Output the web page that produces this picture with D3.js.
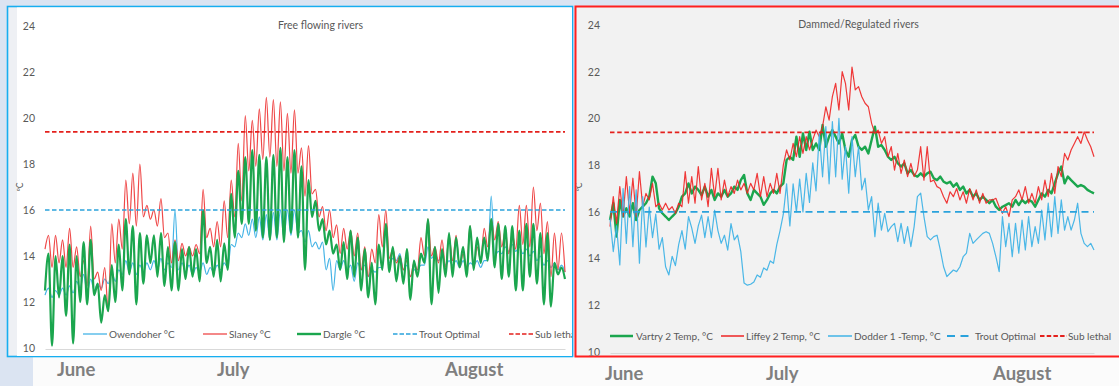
<!DOCTYPE html>
<html><head><meta charset="utf-8">
<script src="https://cdn.jsdelivr.net/npm/d3@7"></script>
<style>
html,body{margin:0;padding:0;background:#dbe4f2;}
svg{display:block;}
text{font-family:Lato,"Open Sans",sans-serif;}
</style></head><body>
<svg id="c" width="1119" height="386"></svg>
<script>
// ---------- DATA (half-day samples, 74 days, June-August) ----------
const yTicks = [10, 12, 14, 16, 18, 20, 22, 24];
const monthLabels = ["June", "July", "August"];
const troutOptimal = 16;
const subLethal = 19.4;

// Free flowing rivers
const owendoher = [
12.3,12.6,12.2,12.5,12.3,12.6,12.3,12.7,12.4,12.9,12.6,13.2,12.4,13.0,12.5,12.8,12.6,13.0,12.8,13.3,
12.9,13.4,13.2,13.8,13.3,13.7,13.2,13.6,13.3,13.7,13.4,13.8,13.4,13.9,13.4,13.7,13.5,16.0,13.4,13.7,
13.3,13.6,13.2,13.5,13.3,13.7,13.2,13.5,13.3,13.6,13.4,13.7,13.5,14.5,14.4,15.0,14.8,15.4,14.9,15.6,
14.8,15.7,14.7,15.8,14.7,15.9,14.7,16.0,14.8,16.0,14.9,16.0,15.0,15.1,14.6,15.1,14.4,14.6,14.3,14.6,
13.4,13.9,12.5,13.8,13.4,13.8,13.4,13.6,12.9,13.7,13.4,13.6,13.1,13.4,13.3,13.5,13.5,15.0,13.7,13.9,
13.8,14.1,13.4,13.6,13.1,13.4,13.4,13.6,13.6,14.4,13.9,14.1,13.8,14.0,13.6,13.8,13.6,13.8,13.5,13.8,
13.5,13.7,13.6,13.8,13.5,13.8,13.8,16.6,14.0,14.2,14.1,14.4,14.2,14.5,14.2,14.4,14.1,14.3,14.0,14.2,
13.8,14.0,13.6,13.8,13.5,13.7,13.4,13.6,13.3];
const slaney = [
14.3,14.9,13.5,14.9,13.7,14.7,13.5,15.2,13.5,14.4,13.1,13.8,12.7,15.3,13.0,13.3,12.5,13.5,11.6,15.4,
13.7,15.6,14.3,17.3,15.4,17.6,15.3,18.0,15.7,16.2,15.6,16.0,15.3,16.5,14.8,15.0,13.7,14.7,13.8,14.55,
14.0,14.4,14.0,14.5,14.1,16.9,14.8,15.2,14.4,15.5,14.4,16.4,14.8,17.3,15.7,18.9,16.4,20.1,17.7,19.9,
17.9,20.4,18.2,20.9,18.3,20.8,17.9,20.7,17.7,20.2,17.6,20.35,17.6,18.7,16.6,18.8,16.7,16.9,15.7,16.15,
15.1,16.0,14.8,15.35,14.1,15.2,14.3,15.1,14.0,15.0,13.4,14.4,13.1,14.3,13.7,15.8,14.4,16.0,13.9,14.3,
13.7,14.0,13.4,13.8,13.1,13.7,13.4,14.8,14.0,15.6,14.0,14.4,13.7,14.7,13.5,14.9,13.8,14.9,13.5,14.1,
13.5,15.3,13.5,14.4,13.8,15.2,14.4,15.6,14.7,15.5,14.4,15.1,14.1,15.0,14.3,16.2,14.5,16.2,14.4,17.0,
15.1,16.3,14.1,15.5,13.1,15.0,13.4,15.0,13.3];
const dargle = [
12.5,14.1,10.1,14.0,12.2,14.0,11.4,14.5,10.2,14.0,12.0,14.6,11.9,14.7,12.3,12.8,11.1,12.3,11.6,13.6,
12.0,14.5,12.5,15.6,13.2,15.3,11.9,15.0,12.8,14.9,13.7,14.9,13.1,15.0,12.7,14.4,12.5,14.6,12.5,14.3,
13.0,14.4,13.1,14.3,12.9,16.0,13.7,14.4,13.1,14.7,12.9,14.55,13.4,16.7,14.8,17.7,15.4,18.3,15.4,18.6,
15.1,18.4,14.8,18.3,14.7,18.4,14.8,18.7,14.6,18.3,15.0,18.6,14.8,17.9,13.4,17.3,15.7,16.4,15.1,15.6,
14.5,15.1,14.1,14.5,13.4,14.6,13.0,15.1,13.1,14.8,12.5,14.3,12.2,13.7,11.9,14.5,13.4,15.4,13.3,14.4,
12.9,14.0,12.8,14.3,12.1,13.8,13.1,14.1,13.7,15.6,11.9,14.4,12.4,14.3,13.1,15.0,13.1,14.8,13.5,14.4,
13.1,15.3,13.4,14.8,13.7,14.8,13.8,15.6,13.5,15.4,13.0,15.3,13.1,15.3,12.5,15.1,12.5,15.4,13.1,15.4,
12.8,15.0,11.9,15.0,11.8,13.7,13.2,13.5,13.0];

// Dammed / regulated rivers
const vartry = [
15.65,16.37,14.94,16.51,15.8,16.15,15.8,16.37,15.65,16.08,16.22,16.37,16.65,17.51,17.22,16.15,15.94,15.8,15.65,15.8,
15.94,16.22,16.65,16.79,17.22,16.79,17.08,16.94,16.72,17.08,16.65,16.94,16.51,16.79,16.65,16.94,16.65,16.79,17.08,16.94,
17.36,17.58,16.79,16.51,16.94,16.79,16.65,16.3,16.51,16.79,16.94,16.79,17.08,17.22,18.22,18.36,18.22,19.22,18.36,19.36,
18.65,19.43,18.65,18.93,18.65,19.72,18.79,19.22,19.5,19.22,18.93,19.36,18.65,18.36,19.08,19.29,18.79,18.65,18.79,18.5,
19.08,19.65,18.79,18.86,18.65,18.36,18.22,18.36,18.08,17.94,18.08,17.65,17.79,17.58,17.51,17.65,17.51,17.65,17.72,17.44,
17.36,17.51,17.29,17.22,17.29,17.08,17.22,16.94,17.08,16.79,16.94,16.65,16.79,16.51,16.65,16.51,16.37,16.51,16.22,16.08,
16.22,16.29,16.37,16.22,16.51,16.29,16.51,16.37,16.51,16.44,16.22,16.51,16.79,16.65,16.94,16.79,17.22,17.65,17.94,17.22,
17.51,17.36,17.22,17.08,17.15,17.08,16.94,16.86,16.79];
const liffey = [
15.37,16.65,15.51,17.08,15.8,17.51,15.94,17.44,15.8,17.72,16.22,16.79,16.51,17.22,16.22,16.37,16.08,16.37,16.08,16.22,
15.94,16.37,16.22,17.72,16.37,17.51,16.37,17.94,16.51,17.22,16.22,17.86,16.65,17.86,16.51,17.36,16.65,17.08,16.79,17.36,
16.94,17.22,16.79,17.22,16.94,17.65,16.65,17.51,16.65,17.22,16.79,17.65,16.79,18.0,18.65,18.22,18.93,18.36,19.22,18.5,
19.22,18.65,19.08,19.5,19.22,19.65,20.5,19.93,20.93,21.5,20.36,22.0,21.5,20.36,22.2,21.22,21.36,20.93,20.65,20.5,
19.79,19.36,19.5,18.93,19.22,18.36,18.79,17.79,18.5,17.65,18.22,17.51,18.08,17.51,17.79,18.79,17.36,18.79,17.29,17.36,
17.08,17.0,16.65,16.37,16.86,16.65,17.0,16.51,16.86,16.37,17.0,16.51,16.94,16.37,16.79,16.37,16.51,16.51,16.58,16.22,
15.94,16.22,15.8,16.51,16.65,16.94,16.51,17.08,16.37,16.79,16.37,17.08,16.51,17.36,16.65,17.65,16.79,17.94,17.51,18.5,
18.22,18.65,18.93,19.22,18.93,19.43,19.08,18.79,18.36];
const dodder = [
15.72,14.3,15.4,13.73,17.0,14.65,17.08,14.51,16.94,13.8,16.65,14.5,16.2,14.9,15.9,14.4,14.9,13.65,13.3,14.1,
13.7,14.6,15.2,14.4,15.8,15.3,14.65,15.4,15.86,14.9,15.8,14.9,16.07,15.2,14.65,15.0,14.36,15.5,14.8,15.0,
14.3,12.95,12.86,12.9,13.0,13.3,13.2,13.6,13.5,13.9,13.8,14.6,15.2,15.9,17.2,15.4,17.2,16.0,17.4,16.0,
17.65,16.4,18.1,16.9,19.36,17.5,19.65,17.2,19.86,17.5,20.0,17.4,18.8,16.8,19.22,17.51,18.79,16.94,17.44,16.08,
16.65,14.94,16.37,15.22,15.94,15.15,15.37,15.51,14.73,15.51,14.65,15.37,14.51,15.37,16.65,16.8,15.8,14.94,14.8,14.94,
15.0,14.37,13.65,13.23,13.37,13.51,13.44,13.65,14.08,14.23,15.08,14.65,14.8,14.94,15.08,15.15,15.08,14.65,14.08,13.44,
15.8,14.51,15.51,14.08,15.51,14.23,15.65,14.37,15.8,14.51,15.37,14.65,16.08,14.8,16.37,14.94,16.65,15.08,16.51,15.22,
15.8,15.22,15.65,16.37,15.08,14.65,14.51,14.65,14.37];

// ---------- DRAWING ----------
const svg = d3.select("#c");
const TXT = "#595959";

// page pieces
svg.append("rect").attr("x",0).attr("y",0).attr("width",1119).attr("height",386).attr("fill","#dbe4f2");
svg.append("rect").attr("x",33).attr("y",357).attr("width",1086).attr("height",29).attr("fill","#fbfbfb");

// panel frames
svg.append("rect").attr("x",7.5).attr("y",6.5).attr("width",565).attr("height",350)
  .attr("fill","#eef0f4").attr("stroke","#17aef0").attr("stroke-width",1.6);
svg.append("rect").attr("x",17).attr("y",7.5).attr("width",555).attr("height",348.5).attr("fill","#ffffff");
svg.append("rect").attr("x",575.5).attr("y",6.5).attr("width",560).attr("height",350)
  .attr("fill","#f2f2f2").attr("stroke","#ff1f1f").attr("stroke-width",2);

const defs = svg.append("defs");
defs.append("clipPath").attr("id","clipL").append("rect").attr("x",8).attr("y",7).attr("width",564).attr("height",349);
defs.append("clipPath").attr("id","clipR").append("rect").attr("x",576.5).attr("y",7.5).attr("width",543).attr("height",348);

function drawPanel(cfg) {
  const g = svg.append("g").attr("clip-path", `url(#${cfg.clip})`);
  const n = cfg.series[0].values.length - 1;
  const x = d3.scaleLinear().domain([0, n]).range([cfg.x0, cfg.x1]);
  const y = d3.scaleLinear().domain([10, 24]).range([cfg.yBot, cfg.yTop]);

  // bottom axis line
  const xa = g.append("g").attr("transform", `translate(0,${cfg.yBot + 1})`)
    .call(d3.axisBottom(x).tickValues([]).tickSizeOuter(0));
  xa.select(".domain").attr("stroke", "#d9d9d9").attr("stroke-width", 1.2);

  // y axis labels
  const ya = g.append("g").attr("transform", `translate(${cfg.axisX},0)`)
    .call(d3.axisLeft(y).tickValues(yTicks).tickSize(0).tickPadding(0));
  ya.select(".domain").remove();
  ya.selectAll("text").attr("fill", TXT).attr("font-size", 10.5).attr("font-family", "Lato, sans-serif");

  // unit label
  g.append("text").attr("transform", `translate(${cfg.unitX},${cfg.unitY}) rotate(-90)`)
    .attr("text-anchor","middle").attr("font-size",8.5).attr("fill",TXT).text("ºC");

  // title
  g.append("text").attr("x", cfg.titleX).attr("y", cfg.titleY).attr("text-anchor","middle")
    .attr("font-size", 10.5).attr("fill", TXT).text(cfg.title);

  // series
  cfg.series.forEach(s => {
    const line = d3.line().x((d,i)=>x(i)).y(d=>y(d)).curve(cfg.curve);
    g.append("path").datum(s.values).attr("d", line).attr("fill","none")
      .attr("stroke", s.color).attr("stroke-width", s.width).attr("stroke-opacity", s.opacity || 1)
      .attr("stroke-linejoin","round");
  });

  // thresholds
  cfg.thresholds.forEach(t => {
    g.append("line").attr("x1", x(0)).attr("x2", x(n)).attr("y1", y(t.value)).attr("y2", y(t.value))
      .attr("stroke", t.color).attr("stroke-width", 1.7).attr("stroke-dasharray", t.dash);
  });

  // legend
  cfg.legend.forEach(it => {
    g.append("line").attr("x1", it.x).attr("x2", it.x + it.len).attr("y1", cfg.legendY).attr("y2", cfg.legendY)
      .attr("stroke", it.color).attr("stroke-width", it.width).attr("stroke-dasharray", it.dash || null);
    g.append("text").attr("x", it.tx).attr("y", cfg.legendY + 3.6).attr("font-size", 10)
      .attr("fill", TXT).text(it.name);
  });
}

const C = {
  blueL: "#45b4e6", redL: "#ef4848", green: "#1ba64e",
  trout: "#2aa2dc", sub: "#e4201c", redR: "#ee2424", blueR: "#40b3e6"
};

drawPanel({
  clip: "clipL", x0: 45, x1: 565, yTop: 26, yBot: 348, axisX: 35,
  unitX: 23, unitY: 187, title: "Free flowing rivers", titleX: 320.5, titleY: 29,
  curve: d3.curveMonotoneX, legendY: 334,
  series: [
    {values: owendoher, color: C.blueL, width: 1.2},
    {values: slaney, color: C.redL, width: 1.2},
    {values: dargle, color: C.green, width: 2.2}
  ],
  thresholds: [
    {value: troutOptimal, color: C.trout, dash: "4.5,2.5"},
    {value: subLethal, color: C.sub, dash: "4.5,2.5"}
  ],
  legend: [
    {name: "Owendoher °C", x: 83, len: 24, tx: 109, color: C.blueL, width: 1.3},
    {name: "Slaney °C", x: 203, len: 24, tx: 229, color: C.redL, width: 1.3},
    {name: "Dargle °C", x: 297, len: 24, tx: 323, color: C.green, width: 2.4},
    {name: "Trout Optimal", x: 393, len: 24, tx: 419, color: C.trout, width: 1.7, dash: "4.5,2"},
    {name: "Sub lethal", x: 509, len: 24, tx: 535, color: C.sub, width: 1.7, dash: "4.5,2"}
  ]
});

drawPanel({
  clip: "clipR", x0: 610, x1: 1094, yTop: 25, yBot: 352, axisX: 600,
  unitX: 582, unitY: 187, title: "Dammed/Regulated rivers", titleX: 858.5, titleY: 28,
  curve: d3.curveLinear, legendY: 336,
  series: [
    {values: vartry, color: C.green, width: 2.4},
    {values: liffey, color: C.redR, width: 1.2, opacity: 0.9},
    {values: dodder, color: C.blueR, width: 1.2, opacity: 0.95}
  ],
  thresholds: [
    {value: troutOptimal, color: C.trout, dash: "7,4.5"},
    {value: subLethal, color: C.sub, dash: "4.5,2.7"}
  ],
  legend: [
    {name: "Vartry 2 Temp, °C", x: 610, len: 23, tx: 636, color: C.green, width: 2.6},
    {name: "Liffey 2 Temp, °C", x: 721, len: 23, tx: 746, color: C.redR, width: 1.3},
    {name: "Dodder 1 -Temp, °C", x: 828, len: 24, tx: 854, color: C.blueR, width: 1.3},
    {name: "Trout Optimal", x: 947, len: 22, tx: 975, color: C.trout, width: 1.8, dash: "8,5.5"},
    {name: "Sub lethal", x: 1040, len: 27, tx: 1068, color: C.sub, width: 1.8, dash: "4.5,2.2"}
  ]
});

// month labels below the panels
const months = svg.append("g").attr("font-weight", "bold").attr("font-size", 18.5).attr("fill", "#7f7f7f");
[[57, 376], [217, 376], [445, 376]].forEach((p, i) =>
  months.append("text").attr("x", p[0]).attr("y", p[1]).text(monthLabels[i]));
[[605, 380], [766, 380], [993, 380]].forEach((p, i) =>
  months.append("text").attr("x", p[0]).attr("y", p[1]).text(monthLabels[i]));
</script>
</body></html>
